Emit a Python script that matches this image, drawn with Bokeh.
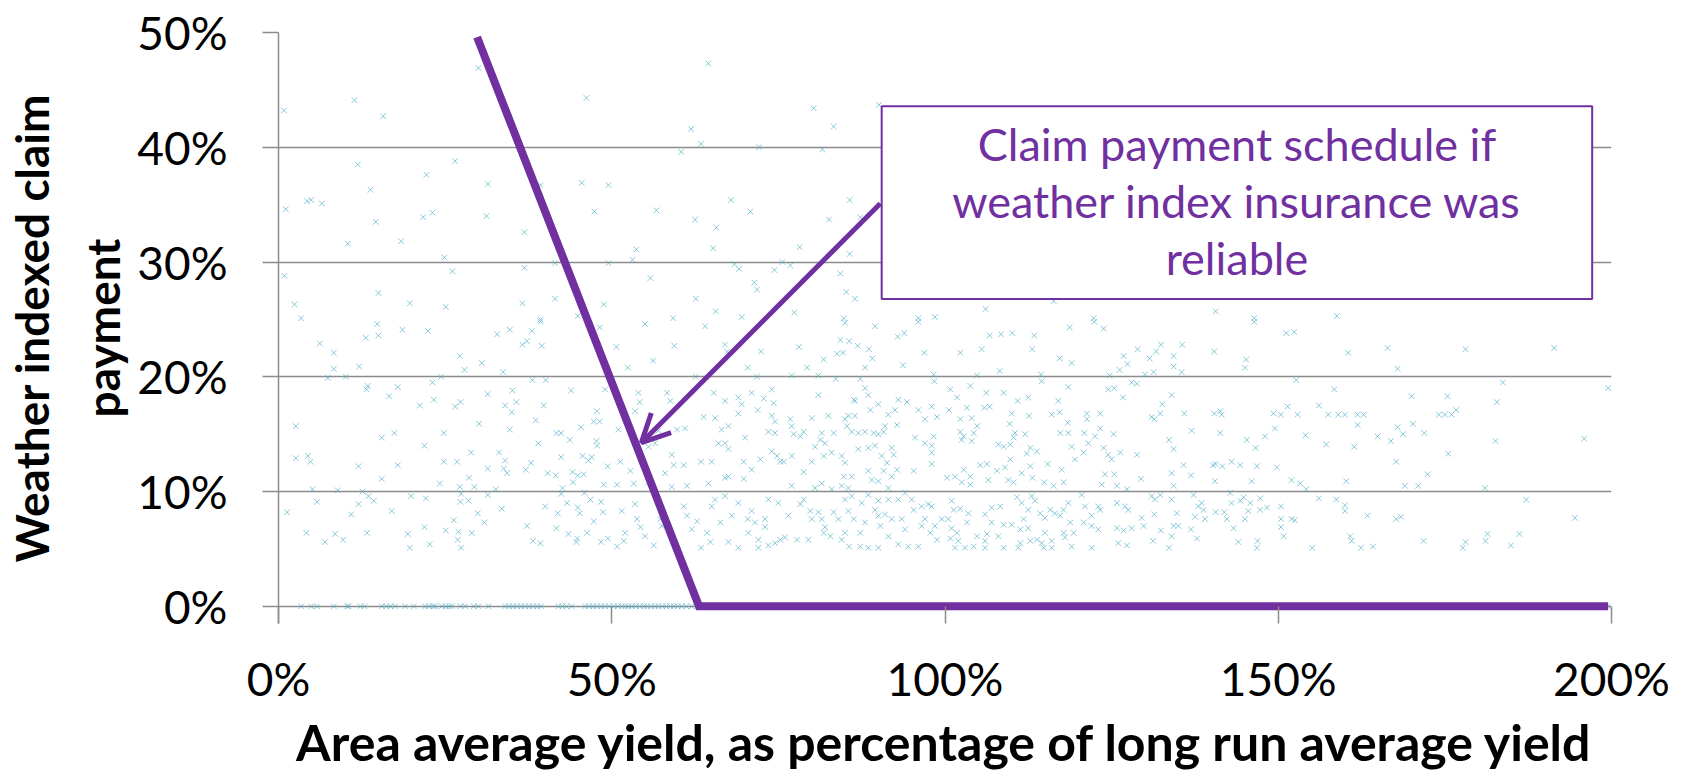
import math
from bokeh.plotting import figure
from bokeh.models import (Range1d, FixedTicker, PrintfTickFormatter, BoxAnnotation,
                          Label, Arrow, OpenHead, ColumnDataSource)
from bokeh.embed import file_html
from bokeh.resources import INLINE

# ---------------- data (percent units) ----------------
yield_a = [30.0, 11.4, 0.8, 15.7, 46.2, 11.9, 26.5, 22.2, 31.4, 13.8, 39.3, 45.5, 49.5, 1.1, 4.3, 4.9, 6.5, 14.6, 21.7, 23.1,
           31.2, 47.4, 10.4, 18.4, 36.9, 24.9, 0.9, 26.1, 36.9, 41.5, 49.5, 15.0, 2.4, 19.7, 25.1, 36.6, 41.5, 48.8, 3.4, 39.3, 44.9]
claim_a = [46.9, 44.1, 43.2, 42.7, 44.3, 38.5, 38.8, 37.6, 36.8, 36.3, 36.7, 36.9, 36.7, 34.6, 35.3, 35.4, 35.1, 33.5, 33.9, 34.3,
           34.0, 34.4, 31.6, 31.8, 32.6, 30.4, 28.8, 29.2, 29.5, 29.9, 29.9, 27.3, 26.3, 26.4, 26.1, 26.4, 26.8, 26.3, 25.1, 25.0, 25.3]

yield_b = [64.5, 80.3, 90.1, 61.9, 83.3, 63.4, 60.4, 72.1, 81.6, 67.9, 85.7, 56.7, 70.8, 62.5, 82.6, 87.3, 65.7, 53.7, 65.2, 78.2,
           53.1, 85.7, 68.4, 69.1, 74.4, 75.6, 76.8, 55.8, 84.3, 71.4, 71.8, 85.2, 86.5, 62.6, 65.6, 77.4, 69.5, 59.2, 84.8, 96.0,
           98.5, 106.1, 116.3, 122.3, 140.6, 146.4, 158.8]
claim_b = [47.3, 43.4, 43.7, 41.6, 41.8, 40.3, 39.6, 40.0, 39.8, 35.4, 35.4, 34.5, 34.4, 33.7, 33.7, 33.9, 33.0, 31.1, 31.2, 31.3,
           30.2, 30.7, 29.8, 29.4, 29.3, 30.0, 29.7, 28.6, 29.0, 28.2, 27.6, 27.4, 26.8, 26.8, 25.7, 25.6, 25.2, 25.1, 25.1, 25.1,
           25.2, 25.9, 26.6, 25.1, 25.7, 25.1, 25.3]

yield_c = [14.8, 13.1, 15.0, 18.6, 22.4, 6.2, 8.3, 8.3, 12.1, 7.4,
           10.1, 27.2, 27.9, 30.5, 32.8, 34.7, 36.6, 37.3, 38.0, 39.3,
           39.5, 33.7, 48.2, 24.4, 23.1, 38.1, 40.1, 13.4, 13.2, 17.9,
           16.6, 31.4, 35.1, 43.9, 49.0, 21.2, 23.3, 26.5, 27.3, 34.0,
           35.7, 35.0, 39.8, 47.8, 2.6, 15.5, 17.4, 24.8, 30.1, 34.7,
           38.6, 41.7, 42.4, 45.4, 47.3, 48.2, 21.9, 39.0, 43.7, 47.7,
           47.8, 2.6, 4.4, 4.8, 12.0, 17.9, 24.8, 26.8, 28.9, 33.1,
           34.0, 33.8, 34.3, 31.4, 37.9, 37.1, 42.4, 45.6, 46.5, 47.0,
           49.4, 15.5, 28.6, 29.4, 24.2, 27.2, 40.4, 41.6, 44.1, 44.9,
           45.8, 44.2, 42.6, 48.8, 5.1, 8.9, 12.6, 32.6, 5.8, 12.0,
           13.5, 14.3, 19.9, 22.1, 27.4, 27.3, 28.5, 31.4, 42.4, 45.9,
           46.8, 48.4, 1.3, 10.9, 17.0, 29.9, 33.5, 40.0, 41.9, 43.3,
           44.9, 45.2, 48.7, 26.3, 30.9, 47.3, 4.2, 7.0, 8.5, 9.7,
           13.3, 19.4, 21.9, 19.7, 22.7, 25.1, 27.0, 29.0, 26.9, 27.4,
           37.3, 38.2, 39.3, 41.7, 43.5, 44.8, 44.7, 46.3, 48.4, 49.4]
claim_c = [24.6, 23.4, 23.6, 24.1, 24.0, 22.9, 22.1, 20.7, 20.9, 19.9,
           20.0, 21.8, 20.6, 21.2, 23.7, 24.1, 22.8, 23.1, 24.0, 24.8,
           22.7, 20.4, 24.3, 20.0, 19.5, 19.7, 19.7, 19.2, 18.9, 19.1,
           18.3, 18.5, 18.8, 18.8, 18.9, 17.5, 18.0, 17.4, 17.8, 17.5,
           17.8, 16.9, 17.5, 17.0, 15.7, 14.7, 15.1, 15.1, 15.9, 15.4,
           16.2, 15.1, 15.1, 15.6, 16.1, 16.1, 14.0, 14.2, 14.5, 14.4,
           14.0, 12.9, 13.1, 12.6, 12.2, 12.3, 12.6, 12.6, 13.4, 13.4,
           12.7, 12.0, 11.6, 12.0, 12.5, 11.9, 13.0, 13.1, 12.7, 13.0,
           12.2, 11.1, 11.2, 10.4, 10.7, 10.4, 11.6, 11.4, 11.7, 11.4,
           11.5, 10.8, 10.3, 10.6, 10.2, 10.1, 10.0, 10.2, 9.1, 8.9,
           9.6, 9.2, 9.6, 9.4, 9.8, 9.1, 9.2, 9.7, 9.8, 9.9,
           9.3, 9.1, 8.2, 8.0, 8.3, 8.1, 8.5, 8.7, 8.1, 9.0,
           8.6, 8.1, 8.2, 7.5, 7.3, 7.4, 6.4, 5.6, 6.3, 5.8,
           6.4, 6.3, 6.9, 5.1, 5.4, 6.6, 6.5, 6.4, 5.8, 5.1,
           7.0, 5.7, 5.5, 6.8, 6.3, 5.9, 5.6, 6.4, 5.6, 5.9]

yield_d = [55.0, 64.0, 50.7, 59.4, 56.2, 52.4, 67.0, 67.3, 72.4, 70.4,
           71.8, 78.1, 81.8, 79.3, 85.0, 89.5, 84.3, 85.6, 86.9, 88.6,
           83.8, 84.7, 89.1, 88.0, 93.7, 92.9, 93.9, 96.9, 96.0, 77.0,
           81.0, 83.6, 87.3, 98.3, 98.4, 54.0, 58.3, 53.5, 54.2, 58.8,
           62.6, 65.3, 67.0, 69.0, 69.5, 71.0, 72.8, 74.0, 74.3, 71.9,
           69.0, 63.8, 65.5, 61.0, 59.8, 66.5, 67.5, 74.0, 74.5, 73.5,
           74.5, 76.8, 77.0, 77.3, 78.3, 78.8, 80.0, 81.0, 82.5, 85.0,
           85.3, 85.5, 86.5, 86.5, 86.3, 88.5, 88.8, 88.0, 90.0, 91.5,
           93.0, 92.5, 94.3, 96.0, 98.0, 97.0, 98.8, 92.8, 91.0, 86.0,
           87.0, 88.0, 89.3, 90.0, 90.8, 81.5, 83.3, 57.0, 55.5, 56.5,
           51.0, 70.0, 66.0, 67.0, 67.5, 59.0, 51.3, 52.8, 59.3, 60.8,
           58.0, 63.4, 65.0, 67.0, 67.5, 69.8, 71.0, 72.3, 74.0, 74.8,
           75.3, 75.8, 77.0, 78.8, 80.0, 80.5, 81.3, 82.0, 81.8, 83.0,
           84.5, 85.0, 84.8, 86.0, 87.0, 88.5, 89.5, 90.5, 92.0, 92.3,
           91.3, 88.5, 89.0, 90.0, 90.8, 92.0, 92.8, 95.5, 97.0, 98.0,
           98.3, 98.0, 95.3, 98.0, 50.8, 53.3, 55.5, 59.0, 61.3, 64.5,
           69.8, 77.0, 80.5, 81.5, 83.0, 84.5, 85.5, 91.5, 94.0, 51.5,
           53.5, 53.8, 52.0, 50.8, 51.8, 54.3, 55.0, 56.3, 57.3, 57.5,
           60.8, 61.3, 62.0, 62.8, 63.4, 64.3, 64.8, 65.0, 65.5, 67.0,
           66.3, 67.5, 68.0, 69.0, 69.0, 70.4, 70.5, 71.0, 71.5, 72.0,
           73.0, 73.0, 73.5, 72.0, 73.5, 74.5, 75.0, 75.3, 76.0, 76.5,
           77.8, 78.3, 78.8, 79.5, 79.8, 80.0, 81.0, 81.5, 82.0, 82.8,
           83.3, 84.0, 84.5, 85.0, 85.5, 85.6, 86.3, 87.3, 87.3, 88.0,
           88.5, 89.5, 90.0, 90.3, 90.0, 91.0, 91.5, 92.0, 93.0, 93.0,
           93.5, 94.0, 94.5, 95.3, 96.0, 96.5, 97.0, 97.5, 97.8, 98.5,
           98.8, 99.5, 85.0, 86.0, 87.5, 88.5, 90.0, 91.5, 95.0, 96.5,
           98.0, 81.8]
claim_d = [24.6, 24.4, 22.6, 22.7, 21.4, 20.8, 22.8, 22.2, 22.2, 20.8,
           20.0, 22.6, 21.5, 20.8, 24.7, 24.4, 23.2, 23.1, 22.7, 22.4,
           22.0, 22.1, 21.6, 20.8, 21.0, 23.5, 23.8, 22.1, 24.8, 20.1,
           20.1, 19.8, 19.8, 20.2, 19.6, 18.6, 18.6, 17.0, 17.8, 17.9,
           20.0, 18.6, 17.9, 18.2, 17.6, 18.6, 18.1, 18.9, 17.7, 17.1,
           16.8, 16.5, 16.4, 15.5, 15.4, 15.4, 15.7, 16.6, 16.1, 15.2,
           15.1, 16.3, 15.7, 15.0, 14.8, 15.2, 16.4, 18.4, 16.6, 16.3,
           15.7, 16.6, 16.6, 17.9, 18.0, 18.4, 17.1, 19.0, 17.6, 16.7,
           18.0, 17.1, 17.8, 17.1, 17.4, 16.3, 16.5, 15.8, 15.7, 15.2,
           15.1, 15.2, 15.1, 15.0, 15.2, 15.1, 15.1, 15.3, 13.9, 14.2,
           15.4, 14.7, 14.2, 14.2, 13.7, 13.2, 12.6, 11.8, 12.3, 12.3,
           11.6, 12.6, 12.6, 11.2, 11.3, 12.6, 11.9, 12.8, 13.5, 13.1,
           12.6, 12.6, 13.1, 11.7, 12.6, 13.9, 14.5, 14.2, 13.1, 13.4,
           13.1, 12.5, 11.3, 11.3, 13.7, 13.8, 14.0, 13.1, 13.8, 13.2,
           12.5, 11.8, 11.0, 10.9, 11.8, 11.3, 11.9, 14.7, 14.2, 14.0,
           14.8, 12.4, 11.8, 13.4, 10.6, 10.7, 10.8, 10.4, 10.5, 10.7,
           11.1, 10.5, 10.3, 10.7, 10.2, 10.5, 10.3, 10.3, 9.9, 8.3,
           8.9, 7.6, 6.4, 5.2, 5.7, 6.9, 6.1, 5.3, 7.6, 7.0,
           8.7, 7.9, 6.7, 7.4, 5.1, 6.4, 5.6, 8.7, 9.3, 9.6,
           7.3, 5.6, 7.9, 9.0, 5.1, 7.6, 6.4, 8.3, 7.3, 5.8,
           7.6, 6.9, 9.3, 5.1, 5.3, 5.5, 9.0, 5.8, 6.0, 7.9,
           5.8, 8.9, 9.3, 5.8, 8.3, 7.6, 8.2, 7.6, 6.9, 6.1,
           8.2, 7.6, 5.8, 6.4, 8.3, 5.2, 7.6, 6.4, 5.2, 7.3,
           5.1, 8.4, 7.9, 7.0, 5.1, 8.0, 6.1, 7.6, 9.3, 5.4,
           7.6, 6.7, 5.2, 8.4, 5.2, 7.0, 7.6, 8.9, 6.4, 7.0,
           5.8, 7.6, 9.3, 9.6, 9.0, 9.7, 9.2, 9.3, 9.3, 8.7,
           8.7, 6.4]

yield_e = [118.7, 122.4, 123.8, 146.4, 106.7, 108.4, 110.1, 113.4, 102.3, 105.5,
           113.1, 117.2, 119.0, 108.2, 104.8, 114.4, 126.8, 127.4, 128.9, 130.7,
           131.7, 132.4, 135.6, 134.3, 134.3, 135.5, 126.2, 140.4, 145.2, 145.0,
           124.7, 130.0, 131.3, 100.8, 101.8, 103.8, 106.2, 108.8, 110.9, 112.5,
           114.5, 118.5, 117.0, 124.5, 125.4, 126.7, 128.0, 128.8, 134.0, 132.6,
           100.6, 103.3, 102.3, 104.0, 104.8, 105.9, 106.7, 110.0, 112.6, 109.7,
           116.0, 117.2, 118.4, 121.3, 121.3, 123.3, 131.0, 131.4, 132.3, 135.9,
           140.4, 141.3, 141.5, 149.3, 102.3, 102.8, 104.3, 102.5, 104.0, 110.5,
           112.0, 117.3, 118.5, 120.9, 123.3, 122.5, 125.3, 137.0, 141.3, 149.5,
           148.0, 108.0, 108.8, 109.8, 110.3, 112.8, 112.3, 113.8, 119.0, 120.8,
           119.5, 121.5, 123.8, 124.5, 125.0, 126.3, 128.8, 133.6, 134.3, 145.3,
           146.6, 109.8, 115.4, 105.3, 106.3, 107.8, 109.0, 111.5, 112.8, 102.8,
           103.8, 101.5, 100.3, 102.5, 103.8, 106.5, 109.5, 110.3, 113.1, 114.9,
           116.3, 117.5, 117.8, 124.0, 125.4, 123.5, 125.8, 127.3, 129.4, 134.0,
           135.8, 136.9, 134.3, 140.2, 140.6, 141.6, 143.0, 144.3, 146.8, 140.5,
           146.0, 149.8, 101.0, 101.3, 102.3, 103.5, 100.5, 101.0, 101.8, 103.3,
           100.8, 102.0, 101.5, 103.0, 104.3, 104.8, 106.0, 107.0, 107.0, 108.3,
           108.8, 106.0, 106.3, 108.0, 108.8, 106.0, 110.0, 110.8, 111.5, 111.3,
           111.8, 112.5, 112.5, 113.0, 113.5, 111.0, 111.3, 112.8, 113.8, 114.3,
           115.0, 115.0, 114.5, 116.0, 114.8, 116.0, 115.8, 116.5, 117.3, 117.8,
           118.5, 118.8, 117.8, 118.0, 119.3, 119.0, 120.5, 121.0, 120.8, 122.0,
           122.0, 123.0, 123.0, 123.3, 122.0, 125.8, 127.0, 127.5, 125.8, 126.8,
           128.0, 126.0, 127.3, 129.5, 129.8, 131.0, 131.5, 132.3, 131.4, 132.4,
           131.2, 134.0, 134.8, 134.3, 135.0, 134.0, 133.6, 137.3, 138.5, 138.0,
           138.8, 137.5, 139.0, 136.9, 137.8, 140.6, 141.9, 142.3, 142.8, 143.0,
           144.3, 144.8, 145.8, 147.3, 147.3, 148.3, 145.5, 145.0, 143.3, 144.0,
           146.9, 146.8]
claim_e = [24.3, 24.8, 24.2, 24.8, 23.6, 23.7, 23.8, 23.6, 22.1, 22.4,
           22.4, 21.6, 21.2, 20.5, 20.1, 20.2, 21.8, 21.1, 22.4, 21.6,
           22.2, 22.8, 22.8, 21.8, 20.9, 20.4, 20.6, 22.2, 21.5, 20.8,
           20.1, 20.2, 20.4, 18.9, 18.2, 19.2, 18.6, 18.6, 17.9, 18.2,
           19.6, 19.1, 17.9, 18.9, 19.0, 18.2, 19.5, 19.4, 18.4, 17.6,
           17.1, 17.3, 16.3, 16.4, 15.7, 17.3, 17.4, 16.8, 16.6, 15.9,
           16.7, 16.9, 16.0, 16.8, 16.3, 16.8, 16.5, 16.3, 16.8, 16.8,
           16.8, 17.0, 16.7, 16.8, 15.2, 14.8, 15.1, 14.5, 14.4, 15.1,
           15.0, 15.1, 15.1, 15.1, 15.5, 14.8, 15.0, 15.3, 15.1, 15.5,
           14.8, 14.1, 13.9, 14.1, 14.7, 13.8, 13.3, 13.5, 13.9, 13.4,
           12.8, 14.2, 13.8, 13.2, 12.8, 13.4, 13.2, 14.5, 13.7, 14.5,
           13.8, 12.8, 12.4, 12.3, 12.4, 11.8, 12.1, 11.6, 12.2, 11.9,
           11.3, 11.3, 11.2, 10.8, 10.6, 11.0, 11.0, 10.8, 11.2, 10.8,
           10.5, 11.9, 10.8, 11.5, 11.5, 10.6, 10.5, 10.2, 11.1, 11.6,
           12.3, 11.4, 10.5, 12.3, 12.4, 12.2, 12.6, 12.3, 12.2, 10.9,
           10.9, 12.1, 9.2, 8.4, 8.5, 8.1, 7.6, 6.8, 6.4, 7.3,
           5.9, 5.7, 5.1, 5.1, 5.2, 6.1, 8.0, 8.6, 7.3, 8.7,
           7.1, 5.7, 6.3, 6.1, 5.1, 5.1, 7.1, 9.5, 9.0, 6.7,
           7.6, 8.4, 6.8, 9.6, 9.2, 5.1, 5.5, 5.7, 5.8, 8.1,
           7.7, 6.4, 5.5, 5.7, 5.1, 5.1, 8.4, 8.1, 7.9, 8.4,
           9.0, 7.3, 6.4, 6.0, 6.4, 5.2, 9.7, 8.7, 7.3, 7.9,
           7.0, 6.7, 8.7, 8.4, 5.1, 9.0, 8.7, 8.4, 6.8, 6.6,
           6.8, 5.5, 5.3, 7.7, 7.0, 9.6, 9.3, 9.7, 8.0, 6.6,
           5.7, 9.3, 8.1, 7.0, 7.0, 6.1, 5.1, 9.7, 9.0, 8.7,
           8.4, 7.8, 7.6, 6.7, 5.9, 8.2, 8.2, 7.6, 9.9, 9.0,
           9.2, 9.5, 9.0, 9.4, 8.4, 8.6, 8.3, 7.6, 6.8, 5.6,
           5.7, 5.1]

yield_f = [151.2, 152.4, 160.5, 166.4, 178.1, 191.4, 167.9, 152.7, 183.7, 158.4,
           199.5, 170.0, 175.4, 156.1, 151.4, 150.4, 152.9, 157.5, 159.0, 160.0,
           161.9, 162.8, 174.1, 175.0, 176.0, 176.7, 182.8, 161.9, 167.9, 170.2,
           168.7, 171.9, 154.1, 164.9, 166.9, 157.2, 161.4, 182.6, 195.9, 175.5,
           167.7, 172.4, 152.0, 153.3, 154.2, 160.2, 169.0, 171.0, 181.0, 156.1,
           158.7, 160.0, 160.0, 187.2, 150.4, 150.4, 152.0, 152.5, 150.4, 150.8,
           163.4, 167.7, 168.4, 194.5, 160.8, 161.0, 155.1, 162.4, 164.2, 171.8,
           178.1, 177.7, 181.1, 181.4, 184.9, 186.2]
claim_f = [23.8, 23.9, 22.1, 22.5, 22.4, 22.5, 20.7, 19.7, 19.5, 18.9,
           19.0, 18.3, 18.3, 17.5, 17.4, 16.7, 16.7, 16.7, 16.7, 16.7,
           16.7, 16.7, 16.7, 16.7, 16.7, 17.1, 17.8, 15.8, 15.6, 15.9,
           15.0, 15.1, 14.9, 14.8, 14.4, 14.1, 13.9, 14.4, 14.6, 13.3,
           12.6, 11.5, 11.0, 10.7, 10.2, 10.9, 10.5, 10.5, 10.3, 9.4,
           9.3, 8.8, 8.3, 9.3, 8.7, 7.6, 7.6, 7.5, 6.9, 6.1,
           7.9, 7.6, 7.8, 7.7, 6.1, 5.7, 5.1, 5.1, 5.2, 5.7,
           5.6, 5.1, 5.7, 6.3, 5.3, 6.3]

# points sitting on the zero-claim line
zero_yield = [3.4, 4.9, 5.8, 8.3, 10.3, 10.5, 12.3, 12.9, 15.5, 16.2, 16.8, 17.5, 19.0, 20.3, 22.0, 22.6,
              23.2, 23.5, 24.5, 25.1, 25.6, 26.0, 27.3, 28.0, 29.3, 30.0, 31.5, 34.0, 34.6, 35.2, 35.8,
              36.4, 37.0, 37.6, 38.2, 38.8, 39.4, 42.0, 42.6, 43.2, 44.0, 46.0, 46.6, 47.2, 47.8, 48.4,
              49.0, 49.6, 50.3, 50.9, 51.5, 52.0, 52.5, 53.0, 53.6, 54.2, 54.8, 55.3, 55.9, 56.5, 57.0,
              57.6, 58.2, 58.8, 59.3, 59.9, 60.5, 61.2, 62.0, 62.8, 199.5]
zero_claim = [0.0] * len(zero_yield)

# claim payment schedule (reliable index insurance)
schedule_yield = [29.8, 63.1, 199.5]
schedule_claim = [49.6, 0.0, 0.0]

x_ticks = [0, 50, 100, 150, 200]
y_ticks = [0, 10, 20, 30, 40, 50]

x_title = "Area average yield, as percentage of long run average yield"
y_title = "Weather indexed claim\npayment"
note_lines = ["Claim payment schedule if", "weather index insurance was", "reliable"]

# ---------------- assemble ----------------
pairs = [(yield_a, claim_a), (yield_b, claim_b), (yield_c, claim_c), (yield_d, claim_d),
         (yield_e, claim_e), (yield_f, claim_f), (zero_yield, zero_claim)]
xs, ys = [], []
for a, b in pairs:
    assert len(a) == len(b), (len(a), len(b))
    xs += a
    ys += b
src = ColumnDataSource(dict(x=xs, y=ys))

PURPLE = "#7030A0"
GRID = "#8c8c8c"
FONT = "Lato"

p = figure(width=1690, height=774, output_backend="svg", toolbar_location=None,
           x_range=Range1d(0, 200), y_range=Range1d(-1.5, 50),
           min_border_left=278, min_border_right=79, min_border_top=32, min_border_bottom=150,
           background_fill_color="white", border_fill_color="white")
p.outline_line_color = None

p.scatter("x", "y", source=src, marker="x", size=8, line_color="#4BACC6",
          line_alpha=0.65, line_width=1)

p.line(schedule_yield, schedule_claim, line_color=PURPLE, line_width=8, line_join="miter")

# axes
p.xaxis.ticker = FixedTicker(ticks=x_ticks)
p.xaxis.formatter = PrintfTickFormatter(format="%d%%")
p.xaxis.axis_line_color = None
p.xaxis.major_tick_in = 17
p.xaxis.major_tick_out = 0
p.xaxis.major_tick_line_color = GRID
p.xaxis.major_tick_line_width = 1.5
p.xaxis.minor_tick_line_color = None
p.xaxis.major_label_text_font = FONT
p.xaxis.major_label_text_font_size = "46px"
p.xaxis.major_label_text_color = "black"
p.xaxis.major_label_standoff = 27
p.xaxis.axis_label = x_title
p.xaxis.axis_label_text_font = FONT
p.xaxis.axis_label_text_font_style = "bold"
p.xaxis.axis_label_text_font_size = "50px"
p.xaxis.axis_label_text_color = "black"
p.xaxis.axis_label_standoff = 3

p.yaxis.ticker = FixedTicker(ticks=y_ticks)
p.yaxis.formatter = PrintfTickFormatter(format="%d%%")
p.yaxis.axis_line_color = GRID
p.yaxis.axis_line_width = 1.5
p.yaxis.major_tick_in = 0
p.yaxis.major_tick_out = 16
p.yaxis.major_tick_line_color = GRID
p.yaxis.major_tick_line_width = 1.5
p.yaxis.minor_tick_line_color = None
p.yaxis.major_label_text_font = FONT
p.yaxis.major_label_text_font_size = "46px"
p.yaxis.major_label_text_color = "black"
p.yaxis.major_label_standoff = 35
p.yaxis.axis_label = y_title
p.yaxis.axis_label_text_font = FONT
p.yaxis.axis_label_text_font_style = "bold"
p.yaxis.axis_label_text_font_size = "46px"
p.yaxis.axis_label_text_line_height = 1.3
p.yaxis.axis_label_text_color = "black"
p.yaxis.axis_label_standoff = 4

p.xgrid.visible = False
p.ygrid.ticker = FixedTicker(ticks=y_ticks)
p.ygrid.grid_line_color = GRID
p.ygrid.grid_line_width = 1.5

# arrow and callout box
p.add_layout(Arrow(end=OpenHead(size=28, line_color=PURPLE, line_width=5),
                   x_start=90.3, y_start=35.1, x_end=54.45, y_end=14.26,
                   line_color=PURPLE, line_width=5))
p.add_layout(BoxAnnotation(left=90.5, right=197.1, top=43.57, bottom=26.78,
                           fill_color="white", fill_alpha=1.0, line_color=PURPLE,
                           line_alpha=1.0, line_width=2))
for txt, yy in zip(note_lines, [40.32, 35.35, 30.35]):
    p.add_layout(Label(x=143.8, y=yy, text=txt, text_align="center", text_baseline="alphabetic",
                       text_font=FONT, text_font_size="45px", text_color=PURPLE))

open("out.html", "w").write(file_html(p, INLINE))
